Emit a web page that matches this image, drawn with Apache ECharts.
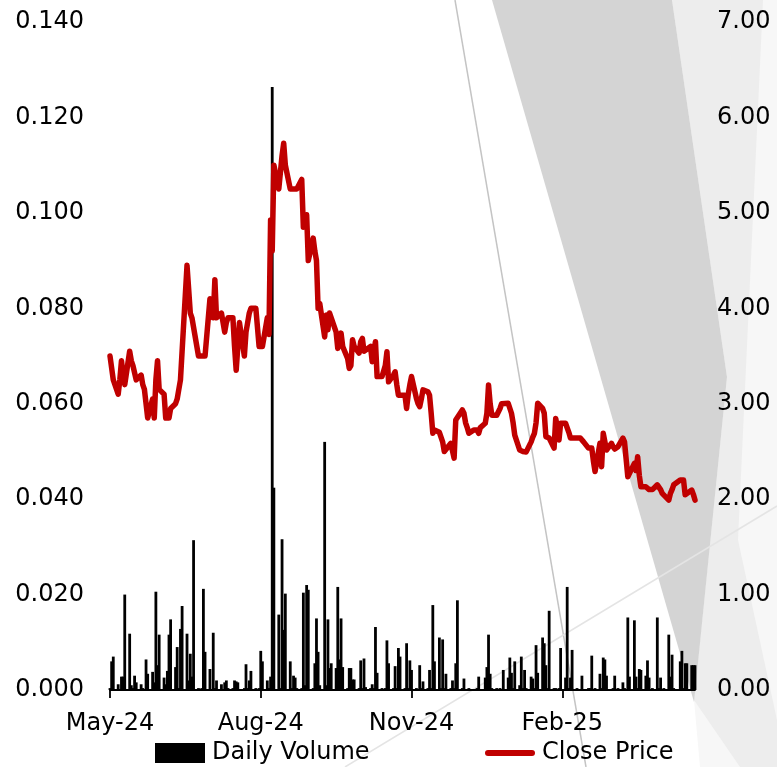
<!DOCTYPE html>
<html>
<head>
<meta charset="utf-8">
<script src="https://cdn.jsdelivr.net/npm/echarts@6/dist/echarts.min.js"></script>
<style>
  html, body { margin: 0; padding: 0; background: #ffffff; }
  #chart { width: 777px; height: 767px; }
</style>
</head>
<body>
<div id="chart"></div>
<script>
// ---------------- data ----------------
const periodStart = '2024-05-01';
const periodEnd = '2025-04-23';

const tickDates = ['2024-05-01', '2024-08-01', '2024-11-01', '2025-02-01'];
const tickLabels = ['May-24', 'Aug-24', 'Nov-24', 'Feb-25'];

const priceTicks = [0, 0.02, 0.04, 0.06, 0.08, 0.10, 0.12, 0.14];
const volumeTicks = [0, 1, 2, 3, 4, 5, 6, 7];

const seriesNames = ['Daily Volume', 'Close Price'];

// Close price, one value per trading day (rows = weeks)
const closePrice = [
  0.070, 0.070, 0.065,
  0.062, 0.065, 0.069, 0.066, 0.064,
  0.071, 0.069, 0.068, 0.068, 0.065,
  0.066, 0.064, 0.063, 0.060, 0.057,
  0.061, 0.057, 0.065, 0.069, 0.063,
  0.062, 0.057, 0.057, 0.057, 0.059,
  0.060, 0.061, 0.063, 0.065, 0.065,
  0.089, 0.084, 0.079, 0.078, 0.078,
  0.070, 0.070, 0.070, 0.070, 0.070,
  0.082, 0.081, 0.078, 0.086, 0.078,
  0.079, 0.077, 0.075, 0.077, 0.078,
  0.078, 0.072, 0.067, 0.072, 0.077,
  0.070, 0.075, 0.077, 0.079, 0.080,
  0.080, 0.080, 0.072, 0.072, 0.072,
  0.078, 0.0745, 0.0985, 0.092, 0.110,
  0.105, 0.105, 0.112, 0.1146, 0.110,
  0.105, 0.105, 0.105, 0.105, 0.105,
  0.107, 0.097, 0.098, 0.0996, 0.090,
  0.0947, 0.092, 0.090, 0.080, 0.081,
  0.074, 0.0786, 0.0755, 0.079, 0.079,
  0.075, 0.0716, 0.073, 0.0748, 0.072,
  0.0695, 0.0674, 0.068, 0.0734, 0.072,
  0.0706, 0.073, 0.0737, 0.071, 0.0709,
  0.072, 0.0688, 0.071, 0.073, 0.0657,
  0.0657, 0.0657, 0.068, 0.0709, 0.0646,
  0.066, 0.0667, 0.064, 0.0618, 0.0618,
  0.0618, 0.059, 0.062, 0.064, 0.0657,
  0.0611, 0.060, 0.0594, 0.061, 0.0629,
  0.0625, 0.0618, 0.058, 0.0538, 0.0545,
  0.054, 0.0538, 0.052, 0.050, 0.0496,
  0.0517, 0.052, 0.0486, 0.0566, 0.057,
  0.0587, 0.058, 0.056, 0.055, 0.0538,
  0.0545, 0.0545, 0.0545, 0.0538, 0.055,
  0.0559, 0.058, 0.0639, 0.060, 0.0576,
  0.0576, 0.0576, 0.059, 0.060, 0.0601,
  0.0601, 0.0601, 0.058, 0.056, 0.0534,
  0.0503, 0.050, 0.050, 0.050, 0.0499,
  0.052, 0.053, 0.0538, 0.056, 0.0601,
  0.059, 0.058, 0.0531, 0.053, 0.0528,
  0.0507, 0.0569, 0.055, 0.0524, 0.0559,
  0.0559, 0.0559, 0.054, 0.0528, 0.0528,
  0.0528, 0.0528, 0.0528, 0.0528, 0.052,
  0.0507, 0.0507, 0.0507, 0.048, 0.0458,
  0.0517, 0.0468, 0.0538, 0.052, 0.0503,
  0.0517, 0.051, 0.0505, 0.0503, 0.051,
  0.0528, 0.052, 0.052, 0.0447, 0.045,
  0.0475, 0.046, 0.0489, 0.045, 0.0426,
  0.0426, 0.0426, 0.042, 0.0416, 0.042,
  0.043, 0.043, 0.042, 0.0412, 0.041,
  0.0398, 0.0412, 0.042, 0.043, 0.0433,
  0.044, 0.044, 0.044, 0.0409, 0.0409,
  0.0419, 0.041, 0.0398
];

// Daily volume (millions), one value per trading day (rows = weeks)
const dailyVolume = [
  0.02, 0.30, 0.35,
  0.06, 0.01, 0.14, 0.14, 1.00,
  0.59, 0.05, 0.02, 0.15, 0.08,
  0.06, 0.02, 0.01, 0.32, 0.17,
  0.19, 0.08, 1.03, 0.26, 0.58,
  0.13, 0.06, 0.20, 0.58, 0.74,
  0.24, 0.45, 0.02, 0.64, 0.88,
  0.59, 0.10, 0.38, 0.14, 1.57,
  0.02, 0.01, 0.02, 1.06, 0.40,
  0.22, 0.01, 0.60, 0.02, 0.10,
  0.06, 0.01, 0.08, 0.10, 0.02,
  0.02, 0.10, 0.09, 0.08, 0.01,
  0.02, 0.27, 0.02, 0.10, 0.20,
  0.02, 0.01, 0.02, 0.41, 0.30,
  0.10, 0.02, 0.14, 6.32, 2.12,
  0.79, 0.02, 1.58, 0.63, 1.01,
  0.30, 0.02, 0.15, 0.13, 0.02,
  0.02, 1.02, 0.05, 1.10, 1.05,
  0.02, 0.28, 0.75, 0.40, 0.05,
  2.60, 0.05, 0.74, 0.23, 0.28,
  0.23, 1.08, 0.32, 0.75, 0.24,
  0.02, 0.23, 0.23, 0.11, 0.11,
  0.02, 0.31, 0.02, 0.33, 0.03,
  0.02, 0.06, 0.02, 0.66, 0.18,
  0.02, 0.01, 0.02, 0.52, 0.28,
  0.02, 0.25, 0.02, 0.44, 0.35,
  0.02, 0.49, 0.02, 0.31, 0.21,
  0.02, 0.01, 0.26, 0.02, 0.09,
  0.02, 0.21, 0.02, 0.89, 0.30,
  0.55, 0.02, 0.53, 0.02, 0.17,
  0.02, 0.10, 0.02, 0.28, 0.94,
  0.02, 0.12, 0.01, 0.01, 0.02,
  0.01, 0.01, 0.02, 0.14, 0.01,
  0.13, 0.24, 0.58, 0.17, 0.02,
  0.02, 0.01, 0.02, 0.01, 0.21,
  0.13, 0.34, 0.18, 0.02, 0.30,
  0.05, 0.35, 0.02, 0.21, 0.02,
  0.14, 0.12, 0.02, 0.47, 0.18,
  0.55, 0.49, 0.26, 0.02, 0.83,
  0.02, 0.02, 0.01, 0.02, 0.44,
  0.13, 1.08, 0.02, 0.13, 0.42,
  0.02, 0.01, 0.01, 0.15, 0.01,
  0.02, 0.02, 0.36, 0.01, 0.02,
  0.17, 0.02, 0.34, 0.32, 0.15,
  0.01, 0.02, 0.15, 0.01, 0.02,
  0.08, 0.02, 0.01, 0.76, 0.14,
  0.73, 0.14, 0.02, 0.22, 0.21,
  0.15, 0.31, 0.13, 0.01, 0.02,
  0.76, 0.02, 0.13, 0.01, 0.02,
  0.58, 0.14, 0.37, 0.02, 0.01,
  0.30, 0.41, 0.02, 0.28, 0.28,
  0.26, 0.26, 0.26
];

// ---------------- helpers ----------------
const DAY = 86400000;
function parseDay(s) {
  const p = s.split('-').map(Number);
  return Date.UTC(p[0], p[1] - 1, p[2]);
}
const t0 = parseDay(periodStart);
function dayIndex(s) { return Math.round((parseDay(s) - t0) / DAY); }

// trading days (Mon-Fri) of the calendar period, as day offsets from periodStart
function weekdayOffsets(startStr, endStr) {
  const out = [];
  const end = dayIndex(endStr);
  for (let k = dayIndex(startStr); k <= end; k++) {
    const wd = new Date(t0 + k * DAY).getUTCDay();
    if (wd !== 0 && wd !== 6) out.push(k);
  }
  return out;
}
const days = weekdayOffsets(periodStart, periodEnd);
const tickValues = tickDates.map(dayIndex);

const priceSeries = days.map((d, i) => [d, closePrice[i]]).filter(p => p[1] != null);
const volumeSeries = days.map((d, i) => [d, dailyVolume[i]]).filter(p => p[1] != null);

const FONT = '"DejaVu Sans", "Liberation Sans", Arial, sans-serif';
const FS = 24;
const RED = '#c00000';

const chart = echarts.init(document.getElementById('chart'), null, { renderer: 'canvas' });

const legendBase = {
  top: 736, itemWidth: 50, itemHeight: 20, padding: 5,
  symbolKeepAspect: true,
  textStyle: { fontFamily: FONT, fontSize: FS, color: '#000', padding: [0, 0, 0, 2] }
};

const option = {
  animation: false,
  backgroundColor: '#ffffff',
  graphic: {
    elements: [
      { type: 'polygon', z: -10, silent: true,
        shape: { points: [[672, 0], [777, 0], [777, 767], [700, 767], [694, 700], [727, 377]] },
        style: { fill: '#f7f7f7' } },
      { type: 'polygon', z: -9, silent: true,
        shape: { points: [[672, 0], [763, 0], [738, 540], [777, 720], [777, 767], [740, 767], [694, 700], [727, 377]] },
        style: { fill: '#ededed' } },
      { type: 'polygon', z: -8, silent: true,
        shape: { points: [[492, 0], [672, 0], [727, 377], [694, 702]] },
        style: { fill: '#d4d4d4' } },
      { type: 'line', z: -7, silent: true,
        shape: { x1: 455, y1: 0, x2: 586, y2: 767 },
        style: { stroke: '#c4c4c4', lineWidth: 1.5 } },
      { type: 'line', z: -7, silent: true,
        shape: { x1: 345, y1: 767, x2: 777, y2: 506 },
        style: { stroke: '#e4e4e4', lineWidth: 1.5 } }
    ]
  },
  grid: { left: 110, right: 82, top: 22, bottom: 77, containLabel: false },
  legend: [
    Object.assign({}, legendBase, {
      left: 150,
      data: [{ name: seriesNames[0], icon: 'rect' }]
    }),
    Object.assign({}, legendBase, {
      left: 480,
      data: [{ name: seriesNames[1],
        icon: 'path://M3,0 L47,0 A3,3 0 0 1 47,6 L3,6 A3,3 0 0 1 3,0 Z' }]
    })
  ],
  xAxis: {
    type: 'value',
    min: 0,
    max: dayIndex(periodEnd),
    interval: 92,
    axisLine: { show: true, lineStyle: { color: '#000', width: 1.8 } },
    axisTick: { show: true, length: 8, customValues: tickValues, lineStyle: { color: '#000', width: 1.8 } },
    axisLabel: {
      customValues: tickValues,
      margin: 22,
      fontFamily: FONT, fontSize: FS, color: '#000',
      formatter: function (v) {
        const i = tickValues.indexOf(Math.round(v));
        return i >= 0 ? tickLabels[i] : '';
      }
    },
    splitLine: { show: false }
  },
  yAxis: [
    {
      type: 'value', position: 'left',
      min: priceTicks[0], max: priceTicks[priceTicks.length - 1], interval: 0.02,
      axisLine: { show: false }, axisTick: { show: false }, splitLine: { show: false },
      axisLabel: { margin: 26, fontFamily: FONT, fontSize: FS, color: '#000',
        formatter: v => v.toFixed(3) }
    },
    {
      type: 'value', position: 'right',
      min: volumeTicks[0], max: volumeTicks[volumeTicks.length - 1], interval: 1,
      axisLine: { show: false }, axisTick: { show: false }, splitLine: { show: false },
      axisLabel: { margin: 22, fontFamily: FONT, fontSize: FS, color: '#000',
        formatter: v => v.toFixed(2) }
    }
  ],
  series: [
    {
      name: seriesNames[0], type: 'bar', yAxisIndex: 1,
      data: volumeSeries, barWidth: 2.8,
      itemStyle: { color: '#000000' },
      z: 2
    },
    {
      name: seriesNames[1], type: 'line', yAxisIndex: 0,
      data: priceSeries, symbol: 'none', showSymbol: false,
      lineStyle: { color: RED, width: 5.5, join: 'round', cap: 'round' },
      itemStyle: { color: RED },
      z: 3
    }
  ]
};
chart.setOption(option);
if (days.length !== closePrice.length || days.length !== dailyVolume.length) {
  console.log('length mismatch', days.length, closePrice.length, dailyVolume.length);
}
</script>
</body>
</html>
